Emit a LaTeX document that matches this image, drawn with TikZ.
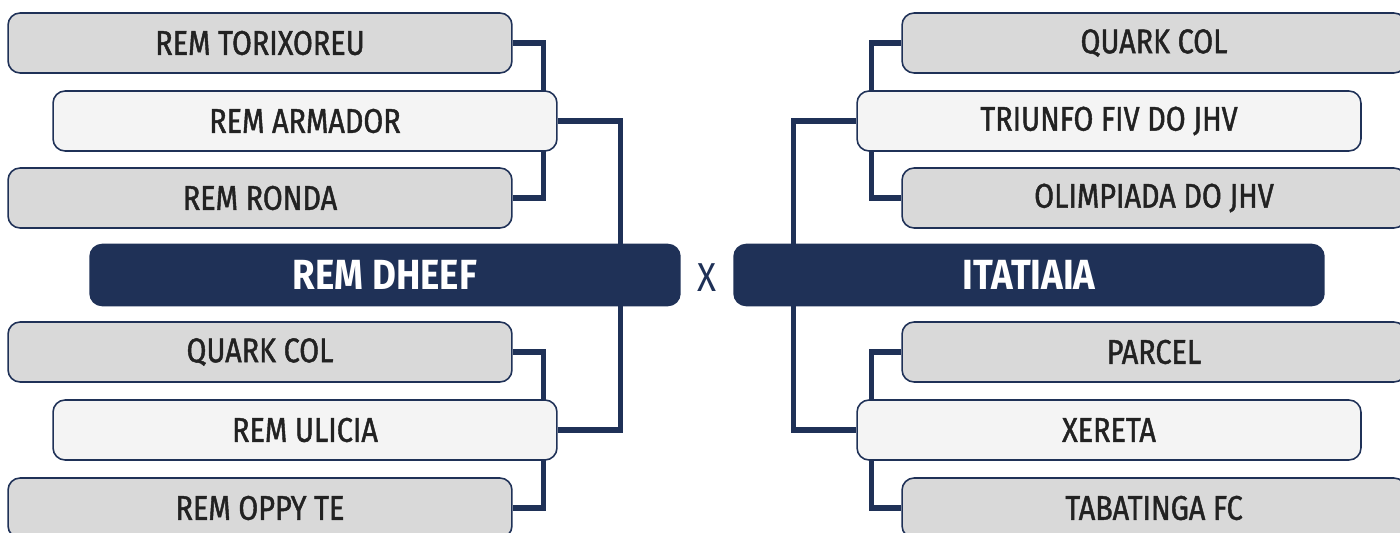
\documentclass[tikz,border=0pt]{standalone}
\usepackage{fontspec}
\setmainfont{Fira Sans}[FakeStretch=0.87]
\newfontfamily\labelfont{Fira Sans}[FakeStretch=0.84, FakeBold=1.3]
\usepackage{xcolor}
\usetikzlibrary{
    positioning,
    backgrounds,
    calc
}
\definecolor{navy}{HTML}{1F3157}
\definecolor{boxgray}{HTML}{D9D9D9}
\definecolor{boxlight}{HTML}{F4F4F4}
\definecolor{ink}{HTML}{222222}
\tikzset{%
    % Specifications for style of nodes:
    base/.style = {
        rectangle, rounded corners=0.24cm, draw=navy, line width=0.9pt,
        minimum width=10.08cm, minimum height=1.2cm,
        text centered, inner sep=0pt, text=ink,
        font=\labelfont\fontsize{19.5}{22}\selectfont
    },
    team/.style = {base, fill=boxgray},
    pick/.style = {base, fill=boxlight},
    champ/.style = {
        base, fill=navy, text=white,
        minimum width=11.8cm, minimum height=1.22cm,
        font=\bfseries\fontsize{24}{28}\selectfont
    },
    link/.style = {draw=navy, line width=3pt}
}

\begin{document}
\begin{tikzpicture}[x=0.02cm, y=-0.02cm]
    \useasboundingbox (0,0) rectangle (1400,533);
    % left side
    \node[team] (torixoreu) at (260,43) {REM TORIXOREU};
    \node[pick] (armador) at (305,121) {REM ARMADOR};
    \node[team] (ronda) at (260,198) {REM RONDA};
    \node[champ] (dheef) at (385,275) {REM DHEEF};
    \node[team] (quarkl) at (260,352) {QUARK COL};
    \node[pick] (ulicia) at (305,430) {REM ULICIA};
    \node[team] (oppy) at (260,508) {REM OPPY TE};
    % right side
    \node[team] (quarkr) at (1154,43) {QUARK COL};
    \node[pick] (triunfo) at (1109,121) {TRIUNFO FIV DO JHV};
    \node[team] (olimpiada) at (1154,198) {OLIMPIADA DO JHV};
    \node[champ] (itatiaia) at (1029,275) {ITATIAIA};
    \node[team] (parcel) at (1154,352) {PARCEL};
    \node[pick] (xereta) at (1109,430) {XERETA};
    \node[team] (tabatinga) at (1154,508) {TABATINGA FC};
    \node[text=navy, font=\fontsize{23}{26}\selectfont] (vs) at (707,278) {X};
    \begin{pgfonlayer}{background}
        \draw[link] (torixoreu.east) -- ++(31,0) |- (ronda.east);
        \draw[link] (quarkl.east) -- ++(31,0) |- (oppy.east);
        \draw[link] (armador.east) -- ++(63,0) |- (ulicia.east);
        \draw[link] (quarkr.west) -- ++(-30,0) |- (olimpiada.west);
        \draw[link] (parcel.west) -- ++(-30,0) |- (tabatinga.west);
        \draw[link] (triunfo.west) -- ++(-63,0) |- (xereta.west);
    \end{pgfonlayer}
\end{tikzpicture}
\end{document}
